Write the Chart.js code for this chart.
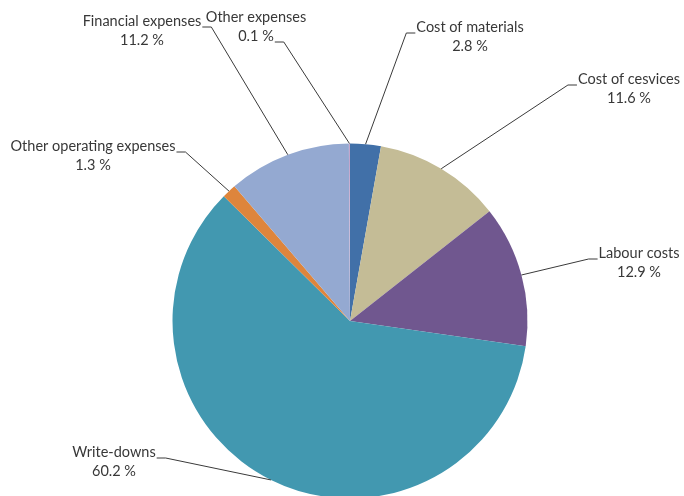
<!DOCTYPE html>
<html>
<head>
<meta charset="utf-8">
<script src="https://cdn.jsdelivr.net/npm/chart.js@4"></script>
<style>
	html, body { margin: 0; padding: 0; background: #fff; overflow: hidden; }
	#wrap { position: relative; width: 684px; height: 500px; }
</style>
</head>
<body>
<div id="wrap"><canvas id="costChart"></canvas></div>
<script>
// cost structure, clockwise from 12 o'clock
const categories = ["Cost of materials", "Cost of cesvices", "Labour costs", "Write-downs",
	"Other operating expenses", "Financial expenses", "Other expenses"];
const shares = [2.8, 11.6, 12.9, 60.2, 1.3, 11.2, 0.1];
const sliceColors = ["#4170A8", "#C4BC96", "#70578F", "#4298B0", "#DE853C", "#94A9D1", "#C4A6CC"];

// where each label sits: centre x, baseline of first line, which side the leader leaves from
// and on which line of the label it starts
const labelSpots = [
	{ x: 470, y: 32, side: "left", row: 0 },
	{ x: 629, y: 84, side: "left", row: 0 },
	{ x: 639, y: 258, side: "left", row: 0 },
	{ x: 114, y: 457, side: "right", row: 0 },
	{ x: 93, y: 151, side: "right", row: 0 },
	{ x: 142, y: 26, side: "right", row: 0 },
	{ x: 256, y: 22, side: "right", row: 1 }
];

const labelFont = "14.5px Lato";
const lineGap = 19;

const leaderLabels = {
	id: "leaderLabels",
	afterDatasetsDraw(chart) {
		const ctx = chart.ctx;
		const meta = chart.getDatasetMeta(0);
		ctx.save();
		ctx.font = labelFont;
		ctx.textAlign = "center";
		ctx.textBaseline = "alphabetic";
		meta.data.forEach((arc, i) => {
			const p = arc.getProps(["x", "y", "startAngle", "endAngle", "outerRadius"], true);
			const mid = (p.startAngle + p.endAngle) / 2;
			const ax = p.x + Math.cos(mid) * p.outerRadius;
			const ay = p.y + Math.sin(mid) * p.outerRadius;

			const spot = labelSpots[i];
			const lines = [categories[i], shares[i].toFixed(1) + " %"];

			ctx.fillStyle = "#383838";
			lines.forEach((t, k) => ctx.fillText(t, spot.x, spot.y + k * lineGap));

			// leader: short flat tick at the text, then straight to the slice edge
			const w = ctx.measureText(lines[spot.row]).width;
			const ly = spot.y + spot.row * lineGap + 1;
			let sx, ex;
			if (spot.side === "left") {
				sx = spot.x - w / 2 - 1;
				ex = sx - 9;
			} else {
				sx = spot.x + w / 2 + 1;
				ex = sx + 9;
			}
			ctx.strokeStyle = "#3a3a3a";
			ctx.lineWidth = 1;
			ctx.beginPath();
			ctx.moveTo(sx, ly);
			ctx.lineTo(ex, ly);
			ctx.lineTo(ax, ay);
			ctx.stroke();
		});
		ctx.restore();
	}
};

const ctx = document.getElementById("costChart");
new Chart(ctx, {
	type: "pie",
	data: {
		labels: categories,
		datasets: [{
			data: shares,
			backgroundColor: sliceColors,
			borderWidth: 0
		}]
	},
	options: {
		responsive: true,
		maintainAspectRatio: false,
		animation: false,
		layout: {
			padding: { left: 172.5, right: 156.5, top: 143.5, bottom: 1.5 }
		},
		plugins: {
			legend: { display: false },
			tooltip: { enabled: false }
		}
	},
	plugins: [leaderLabels]
});
</script>
</body>
</html>
